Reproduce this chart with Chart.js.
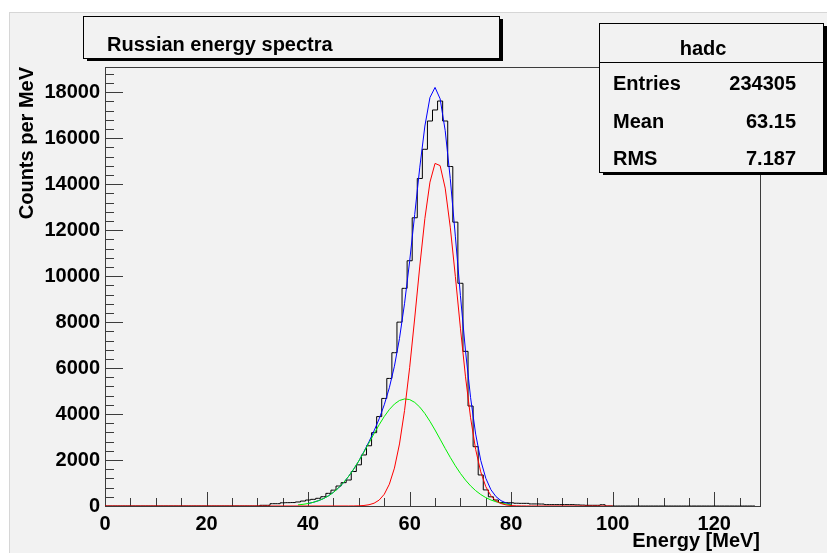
<!DOCTYPE html>
<html>
<head>
<meta charset="utf-8">
<title>Russian energy spectra</title>
<script src="https://cdn.jsdelivr.net/npm/chart.js@4.4.0/dist/chart.umd.min.js"></script>
<style>
 body { margin: 0; background: #fff; }
</style>
</head>
<body>
<canvas id="spectrum" width="827" height="553"></canvas>
<script>
// counts per 1 MeV bin, bins centred on 0, 1, ..., 128
const binCounts = [
	0, 0, 0, 0, 0, 0, 0, 0, 0, 0,
	0, 0, 0, 0, 0, 0, 0, 0, 0, 0,
	0, 0, 0, 0, 0, 0, 0, 0, 0, 0,
	0, 30, 30, 100, 100, 140, 145, 150, 175, 215,
	260, 290, 335, 405, 550, 690, 870, 1015, 1130, 1500,
	1790, 2220, 2620, 3190, 3890, 4680, 5550, 6670, 8000, 9470,
	10670, 12540, 14250, 15520, 16750, 17230, 17620, 16750, 14770, 12350,
	9690, 6730, 4350, 2580, 1350, 700, 400, 260, 150, 145,
	140, 120, 115, 115, 90, 90, 85, 60, 60, 60,
	60, 60, 60, 50, 40, 30, 30, 30, 55, 0,
	0, 0, 0, 0, 0, 0, 0, 0, 0, 0,
	0, 0, 0, 0, 0, 0, 0, 0, 0, 0,
	0, 0, 0, 0, 0, 0, 0, 0, 0
];

// fit curves
const totalEnergy = [40, 41, 42, 43, 44, 45, 46, 47, 48, 49, 50, 51, 52, 53, 54, 55, 56, 57, 58, 59, 60,
	61, 62, 63, 64, 65, 66, 67, 68, 69, 70, 71, 72, 73, 74, 75, 76, 77, 78, 79, 80];
const totalFit = [108, 159, 228, 320, 441, 596, 788, 1020, 1296, 1612, 1964, 2370, 2801, 3272, 3795, 4403,
	5144, 6081, 7291, 8818, 10650, 12688, 14742, 16532, 17773, 18211, 17717, 16334, 14245, 11739, 9152,
	6746, 4715, 3128, 1984, 1205, 710, 408, 232, 131, 75];

const wideEnergy = [38, 39, 40, 41, 42, 43, 44, 45, 46, 47, 48, 49, 50, 51, 52, 53, 54, 55, 56, 57, 58, 59,
	60, 61, 62, 63, 64, 65, 66, 67, 68, 69, 70, 71, 72, 73, 74, 75, 76, 77, 78, 79, 80];
const wideFit = [48, 73, 108, 159, 228, 320, 441, 596, 788, 1020, 1296, 1612, 1964, 2347, 2746, 3150, 3537,
	3893, 4197, 4435, 4591, 4658, 4630, 4508, 4302, 4022, 3683, 3306, 2907, 2504, 2115, 1749, 1417, 1126,
	875, 668, 499, 365, 262, 184, 127, 85, 56];

const narrowEnergy = [0, 48, 49, 50, 51, 52, 53, 54, 55, 56, 57, 58, 59, 60, 61, 62, 63, 64, 65, 66, 67, 68,
	69, 70, 71, 72, 73, 74, 75, 76, 77, 78, 79, 80, 81, 82, 83, 84, 100];
const narrowFit = [0, 1, 3, 9, 23, 55, 122, 258, 510, 947, 1646, 2700, 4160, 6020, 8180, 10440, 12510, 14090,
	14905, 14810, 13830, 12130, 9990, 7735, 5620, 3840, 2460, 1485, 840, 448, 224, 105, 46, 19, 7, 3, 1, 0, 0];

const xTickValues = [0, 20, 40, 60, 80, 100, 120];
const yTickValues = [0, 2000, 4000, 6000, 8000, 10000, 12000, 14000, 16000, 18000];

const statsLabels = ['Entries', 'Mean', 'RMS'];
const statsValues = ['234305', '63.15', '7.187'];

const FONT = "'Liberation Sans', Arial, Helvetica, sans-serif";
const PAD_GREY = '#f2f2f2';

function toPoints(xs, ys) {
	return xs.map((x, i) => ({ x: x, y: ys[i] }));
}

// box with a black drop shadow, ROOT style
function shadowBox(c, x, y, w, h) {
	c.fillStyle = '#000';
	c.fillRect(x + 4, y + 3, w, h);
	c.fillStyle = PAD_GREY;
	c.fillRect(x, y, w, h);
	c.strokeStyle = '#000';
	c.lineWidth = 1;
	c.strokeRect(x + 0.5, y + 0.5, w, h);
}

const rootLook = {
	id: 'rootLook',
	beforeDraw(chart) {
		const c = chart.ctx;
		c.save();
		c.fillStyle = '#fff';
		c.fillRect(0, 0, chart.width, chart.height);
		c.fillStyle = PAD_GREY;
		c.fillRect(9, 12, chart.width - 9, chart.height - 12);
		c.strokeStyle = '#d6d6d6';
		c.strokeRect(9.5, 12.5, chart.width, chart.height);
		c.restore();
	},
	// frame and ticks go under the curves, as in ROOT
	beforeDatasetsDraw(chart) {
		const c = chart.ctx;
		const a = chart.chartArea;
		const xs = chart.scales.x;
		const ys = chart.scales.y;
		c.save();
		c.strokeStyle = '#3c3c3c';
		c.lineWidth = 1;
		c.strokeRect(a.left + 0.5, a.top + 0.5, a.right - a.left, a.bottom - a.top);
		c.beginPath();
		for (let v = 0; v <= xs.max; v += 5) {
			const px = Math.round(xs.getPixelForValue(v)) + 0.5;
			const len = v % 20 === 0 ? 14 : 8;
			c.moveTo(px, a.bottom);
			c.lineTo(px, a.bottom - len);
		}
		for (let v = 0; v <= ys.max; v += 400) {
			const py = Math.round(ys.getPixelForValue(v)) + 0.5;
			const len = v % 2000 === 0 ? 18 : 9;
			c.moveTo(a.left, py);
			c.lineTo(a.left + len, py);
		}
		c.stroke();
		c.restore();
	},
	afterDraw(chart) {
		const c = chart.ctx;
		c.save();

		// title box
		shadowBox(c, 83, 16, 416, 42);
		c.fillStyle = '#000';
		c.font = 'bold 20px ' + FONT;
		c.textAlign = 'left';
		c.textBaseline = 'alphabetic';
		c.fillText('Russian energy spectra', 107, 51);

		// stats box
		shadowBox(c, 599, 23, 224, 149);
		c.beginPath();
		c.moveTo(599, 62.5);
		c.lineTo(823, 62.5);
		c.stroke();
		c.fillStyle = '#000';
		c.textAlign = 'center';
		c.fillText('hadc', 703, 55);
		const rows = [90, 128, 165];
		statsLabels.forEach((label, i) => {
			c.textAlign = 'left';
			c.fillText(label, 613, rows[i]);
			c.textAlign = 'right';
			c.fillText(statsValues[i], 796, rows[i]);
		});
		c.restore();
	}
};

const tickFont = { family: FONT, size: 20, weight: 'bold' };

new Chart(document.getElementById('spectrum').getContext('2d'), {
	type: 'line',
	data: {
		datasets: [{
			label: 'narrow',
			data: toPoints(narrowEnergy, narrowFit),
			borderColor: '#ff0000',
			borderWidth: 1,
			pointRadius: 0,
			tension: 0
		}, {
			label: 'wide',
			data: toPoints(wideEnergy, wideFit),
			borderColor: '#00f000',
			borderWidth: 1,
			pointRadius: 0,
			tension: 0
		}, {
			label: 'total',
			data: toPoints(totalEnergy, totalFit),
			borderColor: '#0000ff',
			borderWidth: 1,
			pointRadius: 0,
			tension: 0
		}, {
			label: 'hadc',
			data: binCounts.map((v, i) => ({ x: i, y: v })),
			borderColor: '#000',
			borderWidth: 1,
			pointRadius: 0,
			stepped: 'middle'
		}]
	},
	options: {
		responsive: false,
		animation: false,
		layout: { padding: { left: 5, right: 67, top: 67, bottom: 0 } },
		plugins: {
			legend: { display: false },
			tooltip: { enabled: false }
		},
		scales: {
			x: {
				type: 'linear',
				min: 0,
				max: 129,
				grid: { display: false },
				border: { display: false },
				afterBuildTicks(scale) {
					scale.ticks = xTickValues.map(v => ({ value: v }));
				},
				ticks: {
					autoSkip: false,
					maxRotation: 0,
					minRotation: 0,
					padding: -2,
					color: '#000',
					font: tickFont,
					callback: v => String(v)
				},
				title: {
					display: true,
					text: 'Energy [MeV]',
					align: 'end',
					color: '#000',
					font: { family: FONT, size: 20, weight: 'bold', lineHeight: 1.2 },
					padding: { top: 0, bottom: 0 }
				},
				afterFit(scale) { scale.height = 47; }
			},
			y: {
				type: 'linear',
				min: 0,
				max: 19100,
				grid: { display: false },
				border: { display: false },
				afterBuildTicks(scale) {
					scale.ticks = yTickValues.map(v => ({ value: v }));
				},
				ticks: {
					autoSkip: false,
					padding: -3,
					color: '#000',
					font: tickFont,
					callback: v => String(v)
				},
				title: {
					display: true,
					text: 'Counts per MeV',
					align: 'end',
					color: '#000',
					font: { family: FONT, size: 20, weight: 'bold', lineHeight: 1.2 },
					padding: { top: 10, bottom: 0 }
				},
				afterFit(scale) { scale.width = 100; }
			}
		}
	},
	plugins: [rootLook]
});
</script>
</body>
</html>
